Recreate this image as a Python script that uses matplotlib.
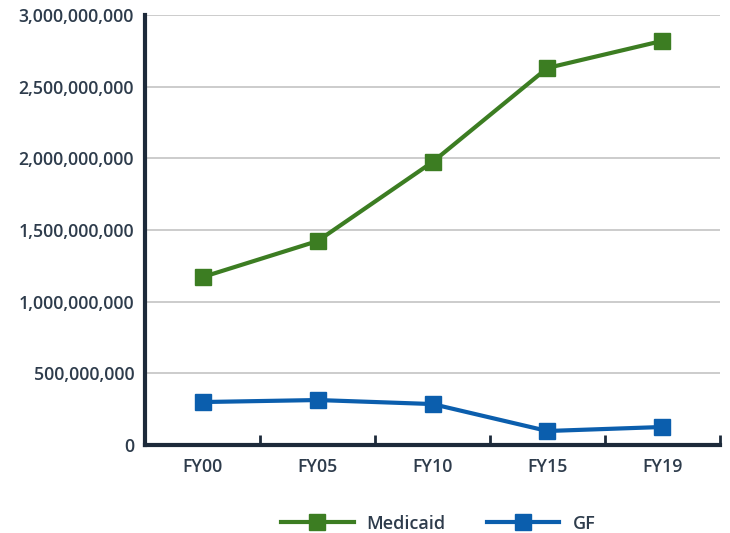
import numpy as np
import matplotlib.pyplot as plt
from matplotlib.ticker import FuncFormatter

years = ["FY00", "FY05", "FY10", "FY15", "FY19"]
medicaid = [1.172e9, 1.423e9, 1.974e9, 2.630e9, 2.819e9]
gf = [0.300e9, 0.314e9, 0.286e9, 0.098e9, 0.126e9]

green = "#3c7d22"
blue = "#0b5ead"
navy = "#1d2a3a"
label_col = "#2e3c4c"

plt.rcParams['font.family'] = ['Open Sans', 'DejaVu Sans']

fig = plt.figure(figsize=(7.3, 5.33), dpi=100)
ax = fig.add_axes([0.199, 0.165, 0.787, 0.807])

x = np.arange(len(years))
ax.plot(x, medicaid, color=green, lw=3, marker="s", ms=11.5, label="Medicaid", zorder=3)
ax.plot(x, gf, color=blue, lw=3, marker="s", ms=11.5, label="GF", zorder=3)

ax.set_xlim(-0.5, len(years) - 0.5)
ax.set_ylim(0, 3e9)
ax.set_yticks(np.arange(0, 3.01e9, 5e8))
ax.yaxis.set_major_formatter(FuncFormatter(lambda v, p: f"{v:,.0f}"))
ax.set_xticks(x)
ax.set_xticklabels(years)
ax.set_xticks(np.arange(-0.5, len(years)), minor=True)

ax.grid(axis="y", color="#c8c8c8", lw=1.3)
ax.set_axisbelow(True)
for s in ["top", "right"]:
    ax.spines[s].set_visible(False)
for s in ["left", "bottom"]:
    ax.spines[s].set_color(navy)
    ax.spines[s].set_linewidth(3)

ax.tick_params(axis="y", length=0, pad=8, labelsize=12.8, labelcolor=label_col)
ax.tick_params(axis="x", which="major", length=0, pad=9, labelsize=12.8, labelcolor=label_col)
ax.tick_params(axis="x", which="minor", direction="in", length=7, width=2, color=navy)
for t in ax.get_xticklabels() + ax.get_yticklabels():
    t.set_fontweight("semibold")

leg = ax.legend(loc="center", bbox_to_anchor=(0.51, -0.183), ncol=2, frameon=False,
                handlelength=4.0, columnspacing=2.3, handletextpad=0.72,
                prop={"size": 13, "weight": "semibold"})
for t in leg.get_texts():
    t.set_color(label_col)

fig.savefig("out.png", dpi=100)
